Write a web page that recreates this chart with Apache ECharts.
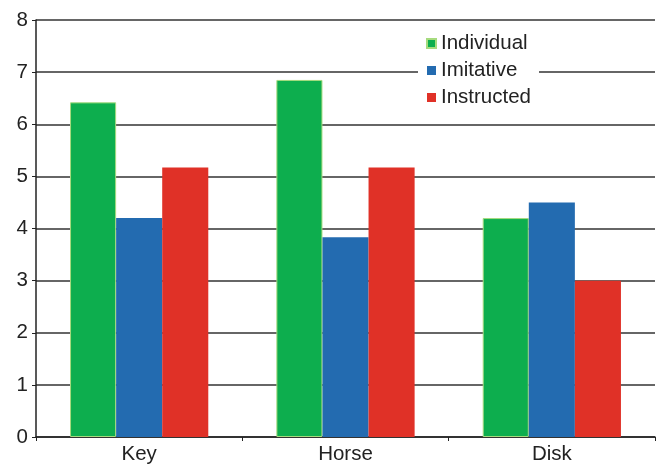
<!DOCTYPE html>
<html>
<head>
<meta charset="utf-8">
<script src="https://cdn.jsdelivr.net/npm/echarts@6/dist/echarts.min.js"></script>
<style>
  html, body { margin: 0; padding: 0; background: #fff; }
  #chart { width: 657px; height: 465px; }
</style>
</head>
<body>
<div id="chart"></div>
<script>
// categories and series values
const categories = ['Key', 'Horse', 'Disk']
const individual = [6.42, 6.85, 4.2]
const imitative = [4.2, 3.83, 4.5]
const instructed = [5.17, 5.17, 3.0]
const yTicks = [0, 1, 2, 3, 4, 5, 6, 7, 8]

const font = 'Liberation Sans, Arial, Helvetica, sans-serif'
const chart = echarts.init(document.getElementById('chart'))

const bar = (name, data, color, border) => ({
  name,
  type: 'bar',
  data,
  barGap: '0%',
  barCategoryGap: '33%',
  itemStyle: {color, borderColor: border || color, borderWidth: border ? 1 : 0}
})

chart.setOption({
  animation: false,
  grid: {left: 36, right: 2, top: 20, bottom: 28},
  legend: {
    orient: 'vertical',
    left: 418,
    top: 31,
    itemWidth: 9,
    itemHeight: 9,
    itemGap: 6,
    padding: [2, 8, 2, 8],
    backgroundColor: '#fff',
    icon: 'rect',
    textStyle: {fontFamily: font, fontSize: 20.5, color: '#222', lineHeight: 20}
  },
  xAxis: {
    type: 'category',
    data: categories,
    axisLine: {lineStyle: {color: '#222', width: 1.5}},
    axisTick: {show: true, alignWithLabel: false, length: 4, lineStyle: {color: '#222'}},
    axisLabel: {fontFamily: font, fontSize: 20.5, color: '#222', margin: 7}
  },
  yAxis: {
    type: 'value',
    min: yTicks[0],
    max: yTicks[yTicks.length - 1],
    interval: 1,
    axisLine: {show: true, lineStyle: {color: '#222', width: 1.5}},
    axisTick: {show: true, length: 4, lineStyle: {color: '#222'}},
    axisLabel: {fontFamily: font, fontSize: 20.5, color: '#222', margin: 8},
    splitLine: {lineStyle: {color: '#333', width: 1.5}}
  },
  series: [
    bar('Individual', individual, '#0DAE4E', '#A6DB7E'),
    bar('Imitative', imitative, '#236BB0'),
    bar('Instructed', instructed, '#E03127')
  ]
})
</script>
</body>
</html>
